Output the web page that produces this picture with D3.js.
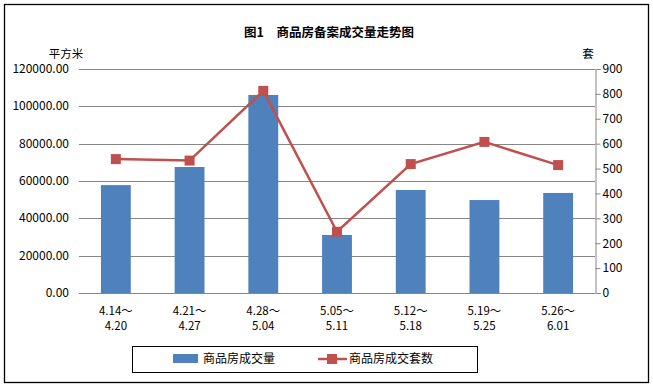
<!DOCTYPE html>
<html>
<head>
<meta charset="utf-8">
<script src="https://cdn.jsdelivr.net/npm/d3@7"></script>
<style>
  body { margin: 0; background: #fff; }
  text { font-family: "Noto Sans CJK SC", "DejaVu Sans", sans-serif; }
</style>
</head>
<body>
<div id="chart"></div>
<script>
// data
var weeks = ['4.14～|4.20', '4.21～|4.27', '4.28～|5.04', '5.05～|5.11', '5.12～|5.18', '5.19～|5.25', '5.26～|6.01'];
var area = [57800, 67500, 106100, 31100, 55200, 49800, 53600];   // 商品房成交量
var units = [538, 532, 812, 246, 518, 607, 514];                  // 商品房成交套数
var leftTicks = [0, 20000, 40000, 60000, 80000, 100000, 120000];
var rightTicks = [0, 100, 200, 300, 400, 500, 600, 700, 800, 900];

var width = 653, height = 386;
var plot = { left: 79, right: 595, top: 69, bottom: 293 };
var barColor = '#4F81BD', lineColor = '#C0504D', gridColor = '#868686';

var svg = d3.select('#chart').append('svg')
  .attr('width', width)
  .attr('height', height);

// outer frame
svg.append('rect')
  .attr('x', 4.5).attr('y', 4.5)
  .attr('width', 644).attr('height', 378)
  .attr('fill', 'none')
  .attr('stroke', '#000')
  .attr('stroke-width', 1.3);

svg.append('text')
  .attr('x', 329).attr('y', 37)
  .attr('text-anchor', 'middle')
  .attr('font-size', 12.5)
  .attr('font-weight', 'bold')
  .text('图1　商品房备案成交量走势图');

var x = d3.scaleBand()
  .domain(weeks)
  .range([plot.left, plot.right])
  .paddingInner(0.595)
  .paddingOuter(0.2975);

var yL = d3.scaleLinear().domain([0, 120000]).range([plot.bottom, plot.top]);
var yR = d3.scaleLinear().domain([0, 900]).range([plot.bottom, plot.top]);

// gridlines
svg.append('g')
  .selectAll('line')
  .data(leftTicks)
  .enter().append('line')
  .attr('x1', plot.left)
  .attr('x2', plot.right)
  .attr('y1', function(d) { return Math.round(yL(d)) + 0.5; })
  .attr('y2', function(d) { return Math.round(yL(d)) + 0.5; })
  .attr('stroke', gridColor)
  .attr('stroke-width', 1);

// left labels
svg.append('g')
  .selectAll('text')
  .data(leftTicks)
  .enter().append('text')
  .attr('x', 69)
  .attr('y', function(d) { return yL(d) + 4; })
  .attr('text-anchor', 'end')
  .attr('font-size', 12)
  .text(function(d) { return d.toFixed(2); });

svg.append('text')
  .attr('x', 66).attr('y', 58)
  .attr('text-anchor', 'middle')
  .attr('font-size', 11.5)
  .text('平方米');

svg.append('text')
  .attr('x', 588).attr('y', 58)
  .attr('text-anchor', 'middle')
  .attr('font-size', 11.5)
  .text('套');

// right axis
var rightAxis = d3.axisRight(yR)
  .tickValues(rightTicks)
  .tickSize(5)
  .tickPadding(2);

var gR = svg.append('g')
  .attr('transform', 'translate(' + (plot.right + 0.5) + ',0)')
  .call(rightAxis);
gR.select('.domain').attr('stroke', gridColor);
gR.selectAll('.tick line').attr('stroke', gridColor);
gR.selectAll('.tick text')
  .attr('font-size', 12)
  .attr('fill', '#000')
  .attr('font-family', '"Noto Sans CJK SC", sans-serif');

// bars
svg.append('g')
  .selectAll('rect')
  .data(area)
  .enter().append('rect')
  .attr('x', function(d, i) { return x(weeks[i]); })
  .attr('y', function(d) { return yL(d); })
  .attr('width', x.bandwidth())
  .attr('height', function(d) { return plot.bottom - yL(d); })
  .attr('fill', barColor);

// line
var line = d3.line()
  .x(function(d, i) { return x(weeks[i]) + x.bandwidth() / 2; })
  .y(function(d) { return yR(d); });

svg.append('path')
  .datum(units)
  .attr('d', line)
  .attr('fill', 'none')
  .attr('stroke', lineColor)
  .attr('stroke-width', 2.5);

svg.append('g')
  .selectAll('rect')
  .data(units)
  .enter().append('rect')
  .attr('x', function(d, i) { return x(weeks[i]) + x.bandwidth() / 2 - 5; })
  .attr('y', function(d) { return yR(d) - 5; })
  .attr('width', 10)
  .attr('height', 10)
  .attr('fill', lineColor);

// category labels, two lines each
var cats = svg.append('g')
  .selectAll('text')
  .data(weeks)
  .enter().append('text')
  .attr('text-anchor', 'middle')
  .attr('font-size', 11.5);

cats.each(function(d) {
  var parts = d.split('|');
  var cx = x(d) + x.bandwidth() / 2;
  var t = d3.select(this);
  t.append('tspan').attr('x', cx).attr('y', 315).text(parts[0]);
  t.append('tspan').attr('x', cx).attr('y', 330).text(parts[1]);
});

// legend
var legend = svg.append('g');
legend.append('rect')
  .attr('x', 132.5).attr('y', 346.5)
  .attr('width', 345).attr('height', 26)
  .attr('fill', '#fff')
  .attr('stroke', '#000')
  .attr('stroke-width', 1);
legend.append('rect')
  .attr('x', 173).attr('y', 354)
  .attr('width', 25).attr('height', 9)
  .attr('fill', barColor);
legend.append('text')
  .attr('x', 203).attr('y', 363)
  .attr('font-size', 12)
  .text('商品房成交量');
legend.append('line')
  .attr('x1', 318).attr('x2', 347)
  .attr('y1', 359).attr('y2', 359)
  .attr('stroke', lineColor)
  .attr('stroke-width', 2.5);
legend.append('rect')
  .attr('x', 327).attr('y', 354)
  .attr('width', 10).attr('height', 10)
  .attr('fill', lineColor);
legend.append('text')
  .attr('x', 349).attr('y', 363)
  .attr('font-size', 12)
  .text('商品房成交套数');
</script>
</body>
</html>
